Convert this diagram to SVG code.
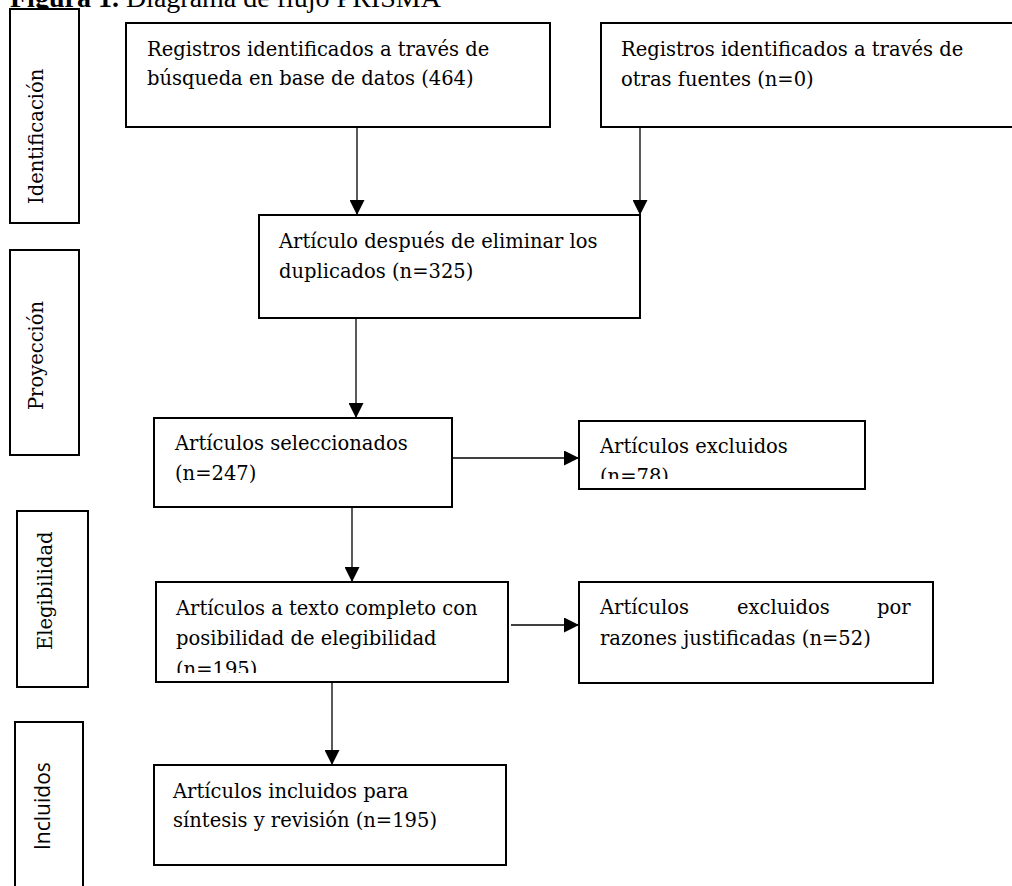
<svg xmlns="http://www.w3.org/2000/svg" width="1012" height="886" viewBox="0 0 1012 886">
<style>
.box{fill:#fff;stroke:#000;stroke-width:2}
.t{font-family:"DejaVu Serif","Liberation Serif",serif;font-size:19.5px;fill:#000}
.s{font-family:"Open Sans","Liberation Sans",sans-serif;font-size:21px;fill:#000}
.c{stroke:#000;stroke-width:1.3;fill:none;marker-end:url(#ah)}
.title{font-family:"Liberation Serif",serif;font-size:28px;fill:#000}
</style>
<defs>
<marker id="ah" markerWidth="15" markerHeight="15" refX="15" refY="7.5" orient="auto" markerUnits="userSpaceOnUse">
<path d="M0,0 L15,7.5 L0,15 Z" fill="#000"/>
</marker>
<clipPath id="clip5"><rect x="579" y="421" width="286" height="58"/></clipPath>
<clipPath id="clip6"><rect x="156" y="582" width="352" height="91"/></clipPath>
</defs>
<rect width="1012" height="886" fill="#fff"/>
<text class="title" x="10" y="7"><tspan font-weight="bold">Figura 1.</tspan> Diagrama de flujo PRISMA</text>

<g id="stage-identificacion">
<rect class="box" x="10" y="9" width="69" height="214"/>
<text class="t" transform="translate(43,204) rotate(-90)">Identificación</text>
</g>
<g id="stage-proyeccion">
<rect class="box" x="10" y="250" width="69" height="205"/>
<text class="t" transform="translate(43,410) rotate(-90)">Proyección</text>
</g>
<g id="stage-elegibilidad">
<rect class="box" x="17" y="511" width="71" height="176"/>
<text class="t" transform="translate(52,650) rotate(-90)">Elegibilidad</text>
</g>
<g id="stage-incluidos">
<rect class="box" x="15" y="722" width="68" height="170"/>
<text class="s" transform="translate(50,850) rotate(-90)">Incluidos</text>
</g>

<g id="connectors">
<line class="c" x1="357" y1="127" x2="357" y2="215"/>
<line class="c" x1="640" y1="127" x2="640" y2="215"/>
<line class="c" x1="356" y1="318" x2="356" y2="418"/>
<line class="c" x1="452" y1="458" x2="579" y2="458"/>
<line class="c" x1="352" y1="507" x2="352" y2="582"/>
<line class="c" x1="511" y1="625" x2="579" y2="625"/>
<line class="c" x1="332" y1="682" x2="332" y2="765"/>
</g>

<g id="box1">
<rect class="box" x="126" y="23" width="424" height="104"/>
<text class="t" x="147" y="56">Registros identificados a través de</text>
<text class="t" x="147" y="85">búsqueda en base de datos (464)</text>
</g>
<g id="box2">
<rect class="box" x="601" y="23" width="414" height="104"/>
<text class="t" x="621" y="56">Registros identificados a través de</text>
<text class="t" x="621" y="86">otras fuentes (n=0)</text>
</g>
<g id="box3">
<rect class="box" x="259" y="215" width="381" height="103"/>
<text class="t" x="279" y="248">Artículo después de eliminar los</text>
<text class="t" x="279" y="278">duplicados (n=325)</text>
</g>
<g id="box4">
<rect class="box" x="154" y="418" width="298" height="89"/>
<text class="t" x="175" y="450">Artículos seleccionados</text>
<text class="t" x="175" y="480">(n=247)</text>
</g>
<g id="box5">
<rect class="box" x="579" y="421" width="286" height="68"/>
<g clip-path="url(#clip5)">
<text class="t" x="600" y="453">Artículos excluidos</text>
<text class="t" x="600" y="483">(n=78)</text>
</g>
</g>
<g id="box6">
<rect class="box" x="156" y="582" width="352" height="100"/>
<g clip-path="url(#clip6)">
<text class="t" x="176" y="615">Artículos a texto completo con</text>
<text class="t" x="176" y="645">posibilidad de elegibilidad</text>
<text class="t" x="176" y="676">(n=195)</text>
</g>
</g>
<g id="box7">
<rect class="box" x="579" y="582" width="354" height="101"/>
<text class="t" y="614"><tspan x="600">Artículos</tspan><tspan x="737">excluidos</tspan><tspan x="877">por</tspan></text>
<text class="t" x="600" y="645">razones justificadas (n=52)</text>
</g>
<g id="box8">
<rect class="box" x="154" y="765" width="352" height="100"/>
<text class="t" x="173" y="798">Artículos incluidos para</text>
<text class="t" x="173" y="827">síntesis y revisión (n=195)</text>
</g>
</svg>
